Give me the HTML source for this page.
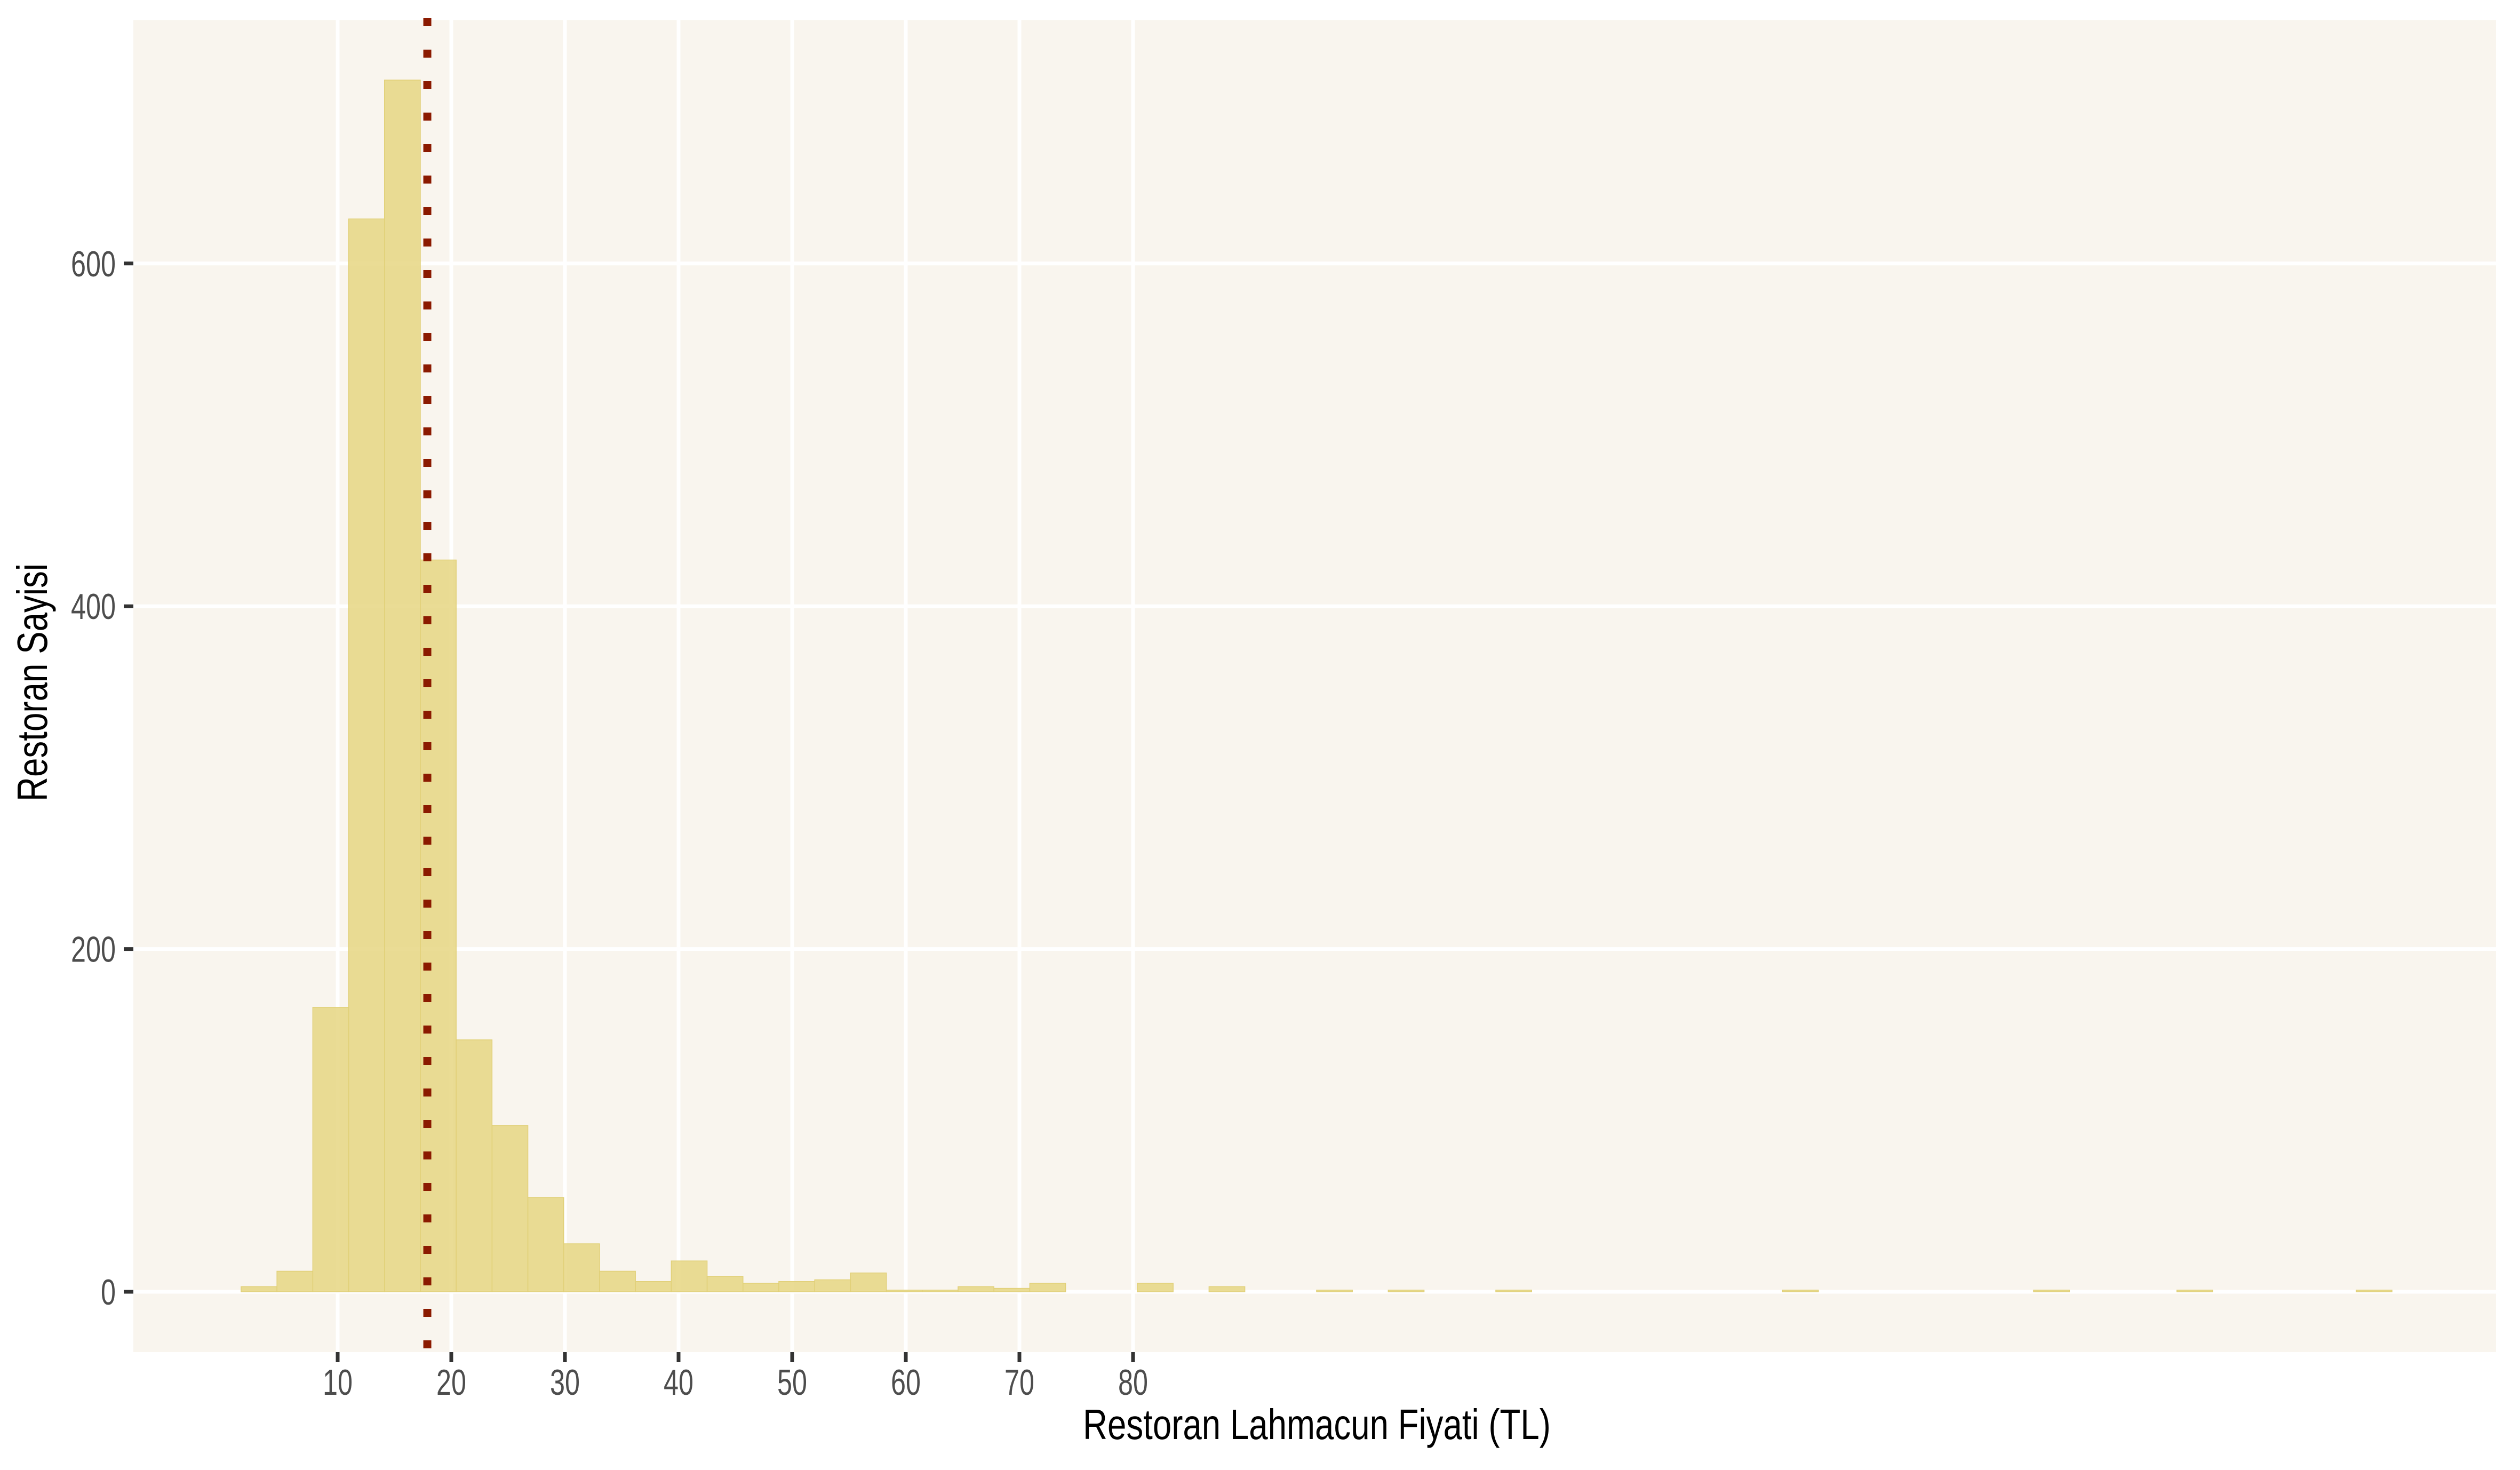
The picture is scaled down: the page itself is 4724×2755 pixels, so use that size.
<!DOCTYPE html>
<html><head><meta charset="utf-8"><style>
html,body{margin:0;padding:0;background:#fff;}
svg{display:block;font-family:"Liberation Sans Narrow","Liberation Sans",sans-serif;}
</style></head><body>
<svg id="chart" width="4724" height="2755" viewBox="0 0 4724 2755" xmlns="http://www.w3.org/2000/svg">
<rect x="250" y="38" width="4429" height="2496" fill="#f9f5ee"/>
<g id="grid"></g>
<g id="bars"></g>
<g id="vline"></g>
<g id="axes"></g>
<text x="2030" y="2697" font-size="80" textLength="877" lengthAdjust="spacingAndGlyphs" fill="#000">Restoran Lahmacun Fiyati (TL)</text>
<text x="0" y="0" transform="translate(88,1502) rotate(-90)" font-size="80" textLength="446" lengthAdjust="spacingAndGlyphs" fill="#000">Restoran Sayisi</text>
</svg>
<script>
const binStart = 1.50;
const binWidth = 3.155;
const counts = [3,12,166,626,707,427,147,97,55,28,12,6,18,9,5,6,7,11,1,1,3,2,5,0,0,5,0,3,0,0,1,0,1,0,0,1,0,0,0,0,0,0,0,1,0,0,0,0,0,0,1,0,0,0,1,0,0,0,0,1];
const xTicks = [10,20,30,40,50,60,70,80];
const yTicks = [0,200,400,600];
const meanValue = 17.89;

const NS = "http://www.w3.org/2000/svg";
const P = {l:250, t:38, r:4679, b:2534};
function xs(v){ return 633 + (v-10)*21.3; }
function ys(v){ return 2421 - v*3.212; }
function mk(tag, attrs, parent){
  const e = document.createElementNS(NS, tag);
  for (const k in attrs) e.setAttribute(k, attrs[k]);
  parent.appendChild(e);
  return e;
}
const grid = document.getElementById('grid');
yTicks.forEach(t=>{
  const l = mk('line',{x1:P.l,x2:P.r,y1:ys(t),y2:ys(t),stroke:'#fff','stroke-width':7},grid);
  
  
});
xTicks.forEach(t=>{
  const l = mk('line',{x1:xs(t),x2:xs(t),y1:P.t,y2:P.b,stroke:'#fff','stroke-width':7},grid);
  
  
});
const bars = document.getElementById('bars');
counts.forEach((c,i)=>{
  if (c<=0) return;
  const x0 = xs(binStart + i*binWidth), x1 = xs(binStart + (i+1)*binWidth);
  const r = mk('rect',{x:x0,y:ys(c),width:x1-x0,height:ys(0)-ys(c),fill:'rgb(230,214,130)','fill-opacity':0.85,stroke:'rgb(225,208,120)','stroke-width':1.5},bars);
  
  
});
const vl = document.getElementById('vline');
const ml = mk('line',{x1:xs(meanValue),x2:xs(meanValue),y1:P.t-4,y2:P.b+30,stroke:'#8b1a00','stroke-width':15,'stroke-dasharray':'15 44'},vl);


const axes = document.getElementById('axes');
yTicks.forEach(t=>{
  const tk = mk('line',{x1:232,x2:250,y1:ys(t),y2:ys(t),stroke:'#333','stroke-width':7},axes);
  
  
  const s = String(t);
  const tx = mk('text',{x:217,y:ys(t)+24,'font-size':68,'text-anchor':'end',fill:'#4d4d4d',textLength:s.length*28,lengthAdjust:'spacingAndGlyphs'},axes);
  tx.textContent = s;
  
  
});
xTicks.forEach(t=>{
  const tk = mk('line',{x1:xs(t),x2:xs(t),y1:2534,y2:2553,stroke:'#333','stroke-width':7},axes);
  
  
  const s = String(t);
  const tx = mk('text',{x:xs(t),y:2614,'font-size':68,'text-anchor':'middle',fill:'#4d4d4d',textLength:s.length*28,lengthAdjust:'spacingAndGlyphs'},axes);
  tx.textContent = s;
  
  
});
</script>
</body></html>
